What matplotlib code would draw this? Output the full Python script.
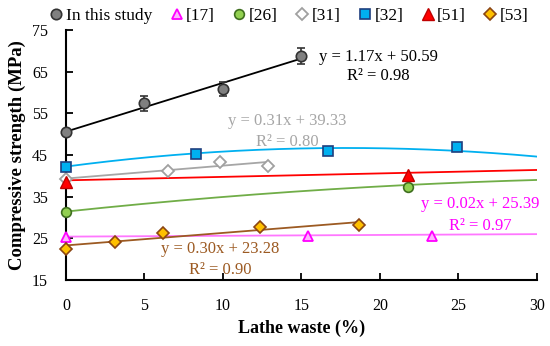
import numpy as np
import matplotlib.pyplot as plt

plt.rcParams['font.family'] = ['Liberation Serif', 'DejaVu Serif']

# In this study
x_study = [0, 5, 10, 15]
y_study = [50.5, 57.4, 60.8, 68.7]
err_study = [0.5, 1.8, 1.6, 1.9]
fit_study = (1.17, 50.59)

# [17]
x_17 = [0, 15.4, 23.3]
y_17 = [25.3, 25.5, 25.5]
fit_17 = (0.02, 25.39)

# [26]
x_26 = [0, 21.8]
y_26 = [31.4, 37.4]
fit_26 = (-0.0049, 0.40, 31.4)   # quadratic trend

# [31]
x_31 = [0, 6.5, 9.8, 12.9]
y_31 = [39.3, 41.1, 43.4, 42.4]
fit_31 = (0.31, 39.33)

# [32]
x_32 = [0, 8.3, 16.7, 24.9]
y_32 = [42.2, 45.2, 45.9, 46.8]
fit_32 = (-0.014, 0.50, 42.2)    # quadratic trend

# [51]
x_51 = [0, 21.8]
y_51 = [38.6, 40.1]
fit_51 = (0.083, 38.9)

# [53]
x_53 = [0, 3.1, 6.15, 12.35, 18.7]
y_53 = [22.4, 24.0, 26.2, 27.8, 28.1]
fit_53 = (0.30, 23.28)

fig = plt.figure(figsize=(5.5, 3.46), dpi=100)
ax = fig.add_axes([0.12, 0.191, 0.856, 0.7225])

xx = np.linspace(0, 30, 200)

# trend lines
ax.plot([0, 15], np.polyval(fit_study, [0, 15]), color='black', lw=1.3, zorder=2)
ax.plot(xx, np.polyval(fit_17, xx), color='#FF77FF', lw=1.3, zorder=2)
ax.plot(xx, np.polyval(fit_26, xx), color='#70AD47', lw=1.3, zorder=2)
ax.plot([0, 12.9], np.polyval(fit_31, [0, 12.9]), color='#A6A6A6', lw=1.3, zorder=2)
ax.plot(xx, np.polyval(fit_32, xx), color='#00B0F0', lw=1.3, zorder=2)
ax.plot(xx, np.polyval(fit_51, xx), color='#FF0000', lw=1.3, zorder=2)
ax.plot([0, 18.7], np.polyval(fit_53, [0, 18.7]), color='#9C5A22', lw=1.3, zorder=2)

# markers
eb = ax.errorbar(x_study, y_study, yerr=err_study, fmt='none', ecolor='#333333',
                 elinewidth=1.2, capsize=3, capthick=1.2, zorder=5)
for c in eb.get_children():
    c.set_clip_on(False)
h0, = ax.plot(x_study, y_study, 'o', ms=7.5, mfc='#808080', mec='#333333', mew=1.2,
              ls='none', label='In this study', zorder=6)
h1, = ax.plot(x_17, y_17, '^', ms=7, mfc='#FFB3FF', mec='#FF00FF', mew=1.3, ls='none', label='[17]', zorder=4)
h2, = ax.plot(x_26, y_26, 'o', ms=7, mfc='#92D050', mec='#3F6F1F', mew=1.2, ls='none', label='[26]', zorder=4)
h3, = ax.plot(x_31, y_31, 'D', ms=6, mfc='white', mec='#A0A0A0', mew=1.3, ls='none', label='[31]', zorder=4)
h4, = ax.plot(x_32, y_32, 's', ms=6.5, mfc='#00B0F0', mec='#1F3F7F', mew=1.2, ls='none', label='[32]', zorder=4)
h5, = ax.plot(x_51, y_51, '^', ms=8, mfc='#FF0000', mec='#C00000', mew=1.0, ls='none', label='[51]', zorder=4)
h6, = ax.plot(x_53, y_53, 'D', ms=6, mfc='#FFC000', mec='#8B4513', mew=1.2, ls='none', label='[53]', zorder=4)
for h in [h0, h1, h2, h3, h4, h5, h6]:
    h.set_clip_on(False)

# equations
eq_kw = dict(fontsize=12, ha='center', va='center')
ax.text(19.9, 68.5, 'y = 1.17x + 50.59', color='black', **eq_kw)
ax.text(19.9, 63.9, 'R² = 0.98', color='black', **eq_kw)
ax.text(14.1, 53.1, 'y = 0.31x + 39.33', color='#A6A6A6', **eq_kw)
ax.text(14.1, 48.1, 'R² = 0.80', color='#A6A6A6', **eq_kw)
ax.text(26.4, 33.2, 'y = 0.02x + 25.39', color='#FF00FF', **eq_kw)
ax.text(26.4, 27.9, 'R² = 0.97', color='#FF00FF', **eq_kw)
ax.text(9.8, 22.4, 'y = 0.30x + 23.28', color='#9C5A22', **eq_kw)
ax.text(9.8, 17.4, 'R² = 0.90', color='#9C5A22', **eq_kw)

ax.set_xlim(0, 30)
ax.set_ylim(15, 75)
ax.set_xticks(range(0, 31, 5))
ax.set_yticks(range(15, 76, 10))
ax.tick_params(direction='in', length=5, width=1.3, labelsize=11.5, pad=13)
for s in ['top', 'right']:
    ax.spines[s].set_visible(False)
for s in ['left', 'bottom']:
    ax.spines[s].set_linewidth(1.5)
ax.set_xlabel('Lathe waste (%)', fontsize=13, fontweight='bold', labelpad=4)
ax.set_ylabel('Compressive strength (MPa)', fontsize=13.5, fontweight='bold', labelpad=4)

ax.legend(handles=[h0, h1, h2, h3, h4, h5, h6], loc='center', bbox_to_anchor=(0.472, 1.056),
          ncol=7, frameon=False, fontsize=12.5, handletextpad=0.05, columnspacing=0.9,
          handlelength=1.0, borderaxespad=0)

fig.savefig('out.png', dpi=100)
